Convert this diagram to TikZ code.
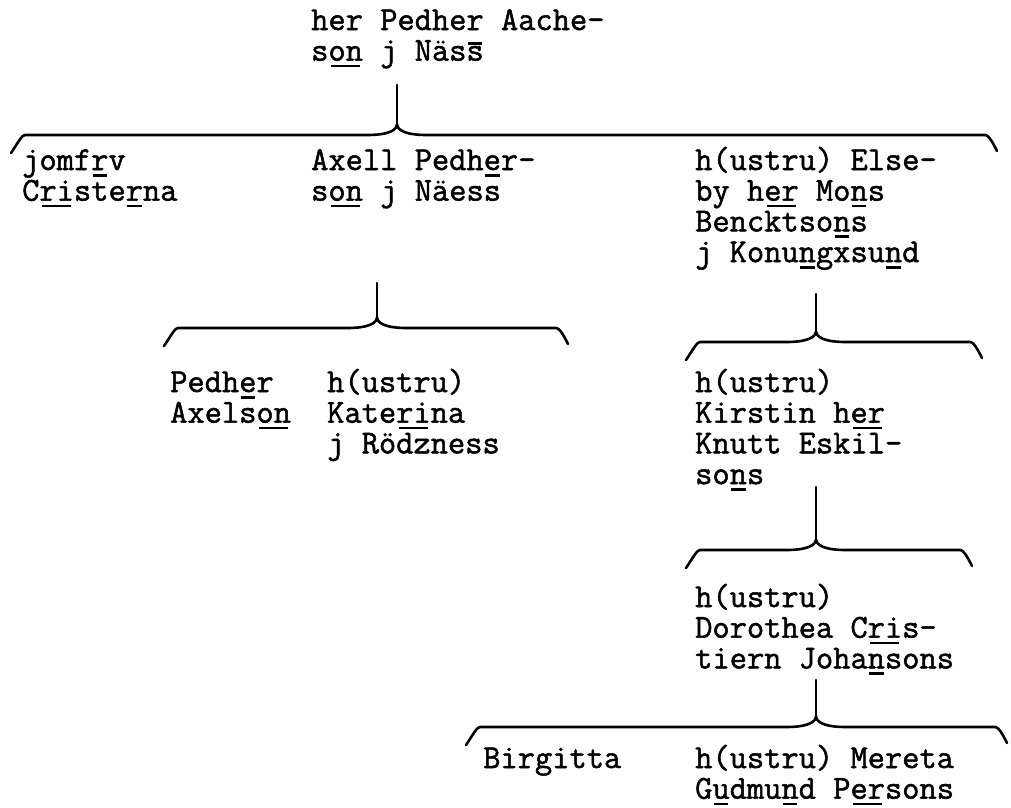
\documentclass[tikz,border=0pt]{standalone}
\usepackage{fontspec}
\newfontfamily\tw{Latin Modern Mono}[FakeBold=1.5]
\usetikzlibrary{calc}
\newcommand\kinfont{\tw\fontsize{33.5pt}{30.7pt}\selectfont}
\newcommand\ub[1]{\leavevmode\sbox0{#1}\rlap{\kern0.08\wd0\rule[-6.5pt]{0.84\wd0}{2.6pt}}\usebox0}
\newcommand\ob[1]{\leavevmode\sbox0{#1}\rlap{\kern0.08\wd0\rule[16pt]{0.84\wd0}{2.6pt}}\usebox0}
\newcommand\rows[1]{\vtop{\baselineskip=30.7pt\lineskiplimit=-50pt\lineskip=0pt\halign{##\hfil\cr#1\crcr}}}
% #1 id, #2 cusp x, #3 stem top y, #4 line y, #5 left x, #6 right x
\newcommand\kinbrace[6]{%
  \coordinate (#1-top) at (#2,#3);
  \coordinate (#1-cusp) at (#2,#4-11);
  \coordinate (#1-l) at (#5,#4);
  \coordinate (#1-r) at (#6,#4);
  \draw[kinline] (#1-top) -- (#1-cusp);
  \draw[kinline] ($(#1-l)+(-14,18)$) .. controls ($(#1-l)+(-6,6)$) and ($(#1-l)+(-3,0)$) .. (#1-l)
     -- ($(#1-cusp)+(-30,11)$) .. controls ($(#1-cusp)+(-8,11)$) and ($(#1-cusp)+(0,6)$) .. (#1-cusp)
     .. controls ($(#1-cusp)+(0,6)$) and ($(#1-cusp)+(8,11)$) .. ($(#1-cusp)+(30,11)$)
     -- (#1-r) .. controls ($(#1-r)+(3,0)$) and ($(#1-r)+(6,4)$) .. ($(#1-r)+(12,16)$);
}
\begin{document}
\begin{tikzpicture}[x=1pt,y=-1pt,
  kinline/.style={line width=2.6pt,line cap=round,line join=round},
  kin/.style={anchor=base west,inner sep=0pt,font=\kinfont}]
\useasboundingbox (0,0) rectangle (1011,807);
% people
\node[kin] (root) at (311,30) {\rows{her Pedher Aache-\cr s\ub{on} j Näs\ob{s}}};
\node[kin] (cris) at (22,170) {\rows{jomf\ub{r}v\cr C\ub{ri}ste\ub{r}na}};
\node[kin] (axell) at (311,170) {\rows{Axell Pedh\ub{e}r-\cr s\ub{on} j Näess}};
\node[kin] (else) at (695,170) {\rows{h(ustru) Else-\cr by h\ub{er} Mo\ub{n}s\cr Bencktso\ub{n}s\cr j Konu\ub{n}gxsu\ub{n}d}};
\node[kin] (pedher) at (170,392) {\rows{Pedh\ub{e}r\cr Axels\ub{on}}};
\node[kin] (katerina) at (327,392) {\rows{h(ustru)\cr Kate\ub{ri}na\cr j Rödzness}};
\node[kin] (kirstin) at (695,392) {\rows{h(ustru)\cr Kirstin h\ub{er}\cr Knutt Eskil-\cr so\ub{n}s}};
\node[kin] (dorothea) at (695,607) {\rows{h(ustru)\cr Dorothea C\ub{ri}s-\cr tiern Joha\ub{n}sons}};
\node[kin] (birgitta) at (483,768) {\rows{Birgitta}};
\node[kin] (mereta) at (695,768) {\rows{h(ustru) Mereta\cr G\ub{u}dmu\ub{n}d P\ub{er}sons}};
% family braces
\kinbrace{b1}{397}{85}{135}{25}{985}
\kinbrace{b2}{377}{283}{328}{178}{556}
\kinbrace{b3}{816}{294}{342}{700}{970}
\kinbrace{b4}{816}{487}{550}{700}{960}
\kinbrace{b5}{816}{680}{727}{480}{995}
\end{tikzpicture}
\end{document}
